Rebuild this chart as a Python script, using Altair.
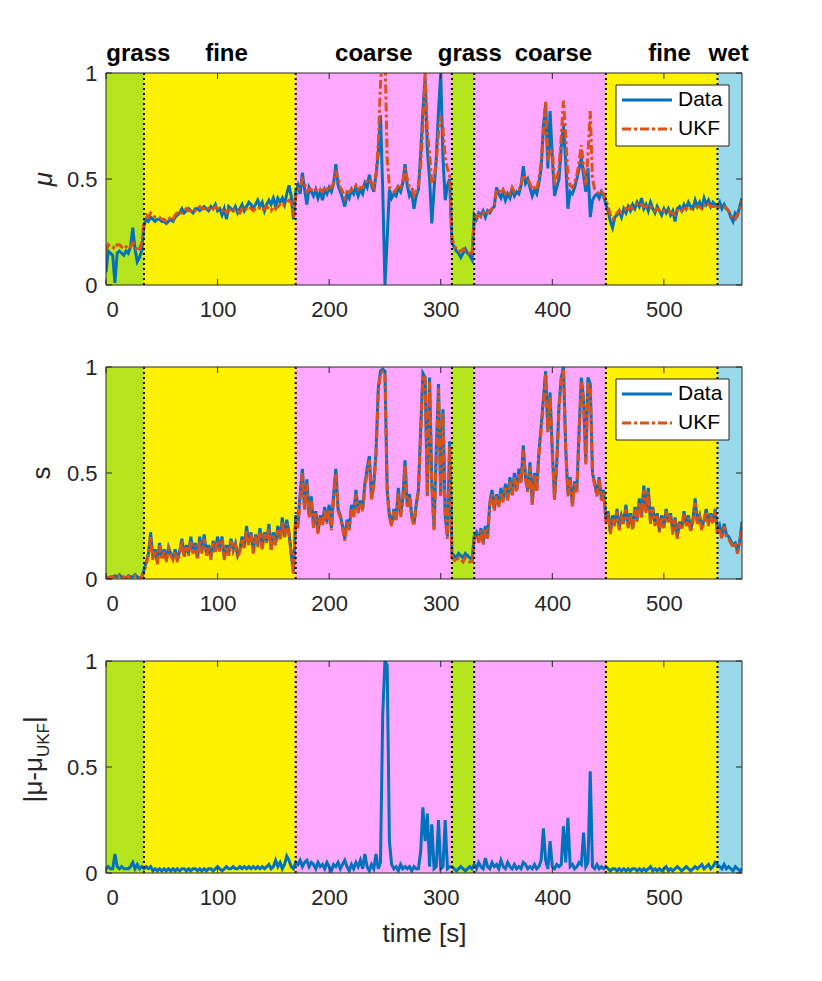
import altair as alt
import pandas as pd

# ---------------- data ----------------
time = list(range(0, 571, 2))

mu_data = [
    # grass 0-34
    0.06, 0.16, 0.15, 0.14, 0.01, 0.15, 0.16, 0.15, 0.14, 0.16, 0.15, 0.18, 0.27, 0.17, 0.11, 0.13, 0.16, 0.28,
    # fine 36-168
    0.31, 0.30, 0.32, 0.31, 0.30, 0.31, 0.31, 0.30, 0.30, 0.29, 0.30, 0.31, 0.30, 0.32, 0.33, 0.34, 0.36, 0.34,
    0.35, 0.36, 0.35, 0.34, 0.36, 0.36, 0.35, 0.36, 0.37, 0.36, 0.35, 0.37, 0.36, 0.38, 0.35, 0.36, 0.33, 0.36,
    0.31, 0.37, 0.36, 0.35, 0.37, 0.34, 0.36, 0.38, 0.35, 0.37, 0.39, 0.38, 0.36, 0.38, 0.40, 0.37, 0.39, 0.35,
    0.38, 0.40, 0.38, 0.41, 0.37, 0.41, 0.39, 0.41, 0.38, 0.43, 0.47, 0.42, 0.31,
    # coarse 170-308
    0.44, 0.47, 0.43, 0.53, 0.45, 0.38, 0.46, 0.44, 0.42, 0.45, 0.41, 0.44, 0.40, 0.45, 0.43, 0.46, 0.44, 0.48,
    0.57, 0.47, 0.44, 0.41, 0.37, 0.43, 0.41, 0.45, 0.43, 0.46, 0.42, 0.45, 0.43, 0.48, 0.46, 0.52, 0.47, 0.44,
    0.52, 0.62, 0.80, 0.45, 0.00, 0.22, 0.45, 0.41, 0.43, 0.42, 0.46, 0.44, 0.48, 0.57, 0.47, 0.42, 0.44, 0.36,
    0.42, 0.45, 0.62, 0.82, 0.98, 0.64, 0.50, 0.29, 0.45, 0.60, 0.82, 1.00, 0.60, 0.40, 0.47, 0.50,
    # grass 310-328
    0.20, 0.18, 0.16, 0.15, 0.13, 0.15, 0.17, 0.15, 0.14, 0.12,
    # coarse 330-446
    0.33, 0.31, 0.34, 0.33, 0.35, 0.32, 0.35, 0.34, 0.36, 0.37, 0.46, 0.43, 0.41, 0.44, 0.40, 0.43, 0.41, 0.45,
    0.42, 0.44, 0.43, 0.47, 0.56, 0.48, 0.50, 0.46, 0.42, 0.45, 0.43, 0.48, 0.55, 0.75, 0.85, 0.55, 0.82, 0.60,
    0.42, 0.46, 0.50, 0.65, 0.75, 0.58, 0.36, 0.44, 0.43, 0.46, 0.50, 0.55, 0.60, 0.52, 0.44, 0.55, 0.32, 0.40,
    0.42, 0.43, 0.41, 0.44, 0.42,
    # fine 448-546
    0.38, 0.35, 0.30, 0.27, 0.32, 0.33, 0.35, 0.32, 0.36, 0.34, 0.37, 0.35, 0.38, 0.36, 0.39, 0.37, 0.41, 0.36,
    0.38, 0.35, 0.39, 0.36, 0.34, 0.37, 0.35, 0.33, 0.36, 0.34, 0.36, 0.33, 0.35, 0.30, 0.36, 0.37, 0.35, 0.38,
    0.36, 0.39, 0.37, 0.36, 0.40, 0.37, 0.39, 0.36, 0.41, 0.38, 0.40, 0.37, 0.39, 0.38,
    # wet 548-570
    0.37, 0.39, 0.36, 0.38, 0.36, 0.35, 0.32, 0.30, 0.34, 0.33, 0.37, 0.41,
]

mu_ukf = [
    0.16, 0.19, 0.18, 0.18, 0.17, 0.19, 0.19, 0.18, 0.17, 0.18, 0.17, 0.18, 0.20, 0.19, 0.16, 0.17, 0.20, 0.30,
    0.33, 0.32, 0.34, 0.33, 0.32, 0.32, 0.32, 0.31, 0.31, 0.30, 0.31, 0.32, 0.31, 0.33, 0.34, 0.35, 0.34, 0.35,
    0.36, 0.35, 0.35, 0.36, 0.35, 0.36, 0.37, 0.36, 0.36, 0.37, 0.36, 0.35, 0.36, 0.37, 0.36, 0.35, 0.35, 0.36,
    0.34, 0.35, 0.36, 0.35, 0.36, 0.35, 0.34, 0.36, 0.35, 0.36, 0.37, 0.36, 0.35, 0.36, 0.37, 0.36, 0.35, 0.36,
    0.37, 0.36, 0.35, 0.37, 0.36, 0.37, 0.38, 0.37, 0.38, 0.39, 0.40, 0.39, 0.32,
    0.42, 0.45, 0.46, 0.50, 0.48, 0.44, 0.45, 0.45, 0.44, 0.45, 0.44, 0.45, 0.44, 0.46, 0.45, 0.47, 0.46, 0.48,
    0.54, 0.50, 0.46, 0.44, 0.41, 0.44, 0.44, 0.45, 0.45, 0.47, 0.45, 0.46, 0.46, 0.48, 0.49, 0.50, 0.48, 0.46,
    0.52, 0.66, 0.95, 1.10, 1.10, 0.60, 0.46, 0.45, 0.44, 0.45, 0.47, 0.46, 0.49, 0.55, 0.50, 0.46, 0.46, 0.42,
    0.44, 0.47, 0.56, 0.75, 1.00, 0.72, 0.62, 0.48, 0.50, 0.58, 0.72, 0.80, 0.74, 0.60, 0.55, 0.52,
    0.22, 0.19, 0.17, 0.16, 0.16, 0.17, 0.16, 0.15, 0.15, 0.14,
    0.31, 0.32, 0.33, 0.32, 0.34, 0.33, 0.34, 0.35, 0.36, 0.38, 0.45, 0.45, 0.43, 0.45, 0.43, 0.44, 0.43, 0.46,
    0.44, 0.45, 0.45, 0.47, 0.52, 0.50, 0.50, 0.48, 0.45, 0.46, 0.45, 0.50, 0.58, 0.72, 0.87, 0.60, 0.62, 0.64,
    0.47, 0.50, 0.55, 0.70, 0.87, 0.70, 0.50, 0.47, 0.46, 0.48, 0.52, 0.58, 0.66, 0.56, 0.47, 0.62, 0.82, 0.50,
    0.45, 0.44, 0.43, 0.44, 0.43,
    0.40, 0.37, 0.33, 0.31, 0.32, 0.34, 0.35, 0.34, 0.35, 0.36, 0.35, 0.37, 0.36, 0.37, 0.38, 0.37, 0.38, 0.37,
    0.37, 0.36, 0.37, 0.36, 0.35, 0.36, 0.35, 0.34, 0.35, 0.35, 0.35, 0.34, 0.34, 0.33, 0.35, 0.36, 0.35, 0.36,
    0.36, 0.37, 0.36, 0.36, 0.37, 0.37, 0.37, 0.36, 0.38, 0.37, 0.38, 0.37, 0.37, 0.37,
    0.36, 0.37, 0.37, 0.37, 0.36, 0.35, 0.33, 0.31, 0.31, 0.33, 0.36, 0.40,
]

s_data = [
    0.010, 0.005, 0.010, 0.010, 0.015, 0.010, 0.020, 0.010, 0.010, 0.005, 0.015, 0.010, 0.010, 0.020, 0.010, 0.005, 0.010, 0.040,
    0.08, 0.12, 0.22, 0.10, 0.14, 0.08, 0.17, 0.10, 0.14, 0.09, 0.15, 0.12, 0.10, 0.14, 0.09, 0.13, 0.19, 0.11,
    0.16, 0.12, 0.20, 0.13, 0.17, 0.10, 0.20, 0.13, 0.21, 0.12, 0.16, 0.10, 0.18, 0.13, 0.20, 0.14, 0.20, 0.10,
    0.16, 0.12, 0.19, 0.14, 0.17, 0.11, 0.14, 0.20, 0.15, 0.25, 0.17, 0.22, 0.13, 0.21, 0.16, 0.24, 0.15, 0.22,
    0.18, 0.26, 0.14, 0.22, 0.17, 0.25, 0.19, 0.29, 0.20, 0.28, 0.22, 0.12, 0.03,
    0.30, 0.25, 0.40, 0.52, 0.33, 0.47, 0.30, 0.39, 0.25, 0.32, 0.22, 0.30, 0.26, 0.34, 0.27, 0.35, 0.24, 0.40,
    0.52, 0.33, 0.30, 0.25, 0.19, 0.28, 0.24, 0.35, 0.30, 0.42, 0.32, 0.37, 0.33, 0.45, 0.52, 0.58, 0.38, 0.45,
    0.60, 0.90, 0.98, 0.99, 0.98, 0.42, 0.30, 0.26, 0.33, 0.28, 0.43, 0.30, 0.38, 0.56, 0.35, 0.40, 0.30, 0.26,
    0.35, 0.42, 0.70, 0.97, 0.95, 0.40, 0.95, 0.45, 0.24, 0.60, 0.92, 0.40, 0.80, 0.30, 0.20, 0.65,
    0.12, 0.11, 0.10, 0.12, 0.11, 0.10, 0.12, 0.11, 0.10, 0.09,
    0.20, 0.22, 0.18, 0.24, 0.17, 0.25, 0.20, 0.36, 0.42, 0.33, 0.40, 0.35, 0.43, 0.37, 0.45, 0.38, 0.48, 0.40,
    0.50, 0.42, 0.52, 0.46, 0.63, 0.48, 0.42, 0.55, 0.36, 0.50, 0.42, 0.60, 0.72, 0.85, 0.98, 0.70, 0.88, 0.60,
    0.38, 0.55, 0.82, 0.95, 1.00, 0.62, 0.40, 0.48, 0.35, 0.46, 0.42, 0.70, 0.95, 0.85, 0.55, 0.95, 0.92, 0.50,
    0.45, 0.40, 0.48, 0.38, 0.42,
    0.28, 0.32, 0.22, 0.30, 0.26, 0.33, 0.24, 0.30, 0.27, 0.35, 0.25, 0.31, 0.24, 0.34, 0.28, 0.38, 0.30, 0.44,
    0.32, 0.43, 0.27, 0.34, 0.26, 0.31, 0.23, 0.30, 0.25, 0.33, 0.27, 0.31, 0.22, 0.29, 0.20, 0.27, 0.24, 0.32,
    0.26, 0.30, 0.23, 0.28, 0.38, 0.27, 0.30, 0.24, 0.28, 0.33, 0.26, 0.31, 0.27, 0.33,
    0.22, 0.25, 0.20, 0.26, 0.21, 0.20, 0.18, 0.16, 0.17, 0.13, 0.18, 0.27,
]

s_ukf = [
    0.008, 0.004, 0.008, 0.009, 0.012, 0.008, 0.016, 0.009, 0.008, 0.004, 0.012, 0.008, 0.009, 0.016, 0.008, 0.004, 0.008, 0.030,
    0.07, 0.11, 0.20, 0.09, 0.13, 0.07, 0.16, 0.09, 0.13, 0.08, 0.14, 0.11, 0.09, 0.13, 0.08, 0.12, 0.18, 0.10,
    0.15, 0.11, 0.18, 0.12, 0.16, 0.09, 0.18, 0.12, 0.19, 0.11, 0.15, 0.09, 0.17, 0.12, 0.18, 0.13, 0.19, 0.09,
    0.15, 0.11, 0.18, 0.13, 0.16, 0.10, 0.13, 0.19, 0.14, 0.23, 0.16, 0.21, 0.12, 0.20, 0.15, 0.22, 0.14, 0.21,
    0.17, 0.24, 0.13, 0.21, 0.16, 0.23, 0.18, 0.27, 0.19, 0.26, 0.21, 0.11, 0.02,
    0.29, 0.24, 0.38, 0.50, 0.32, 0.45, 0.29, 0.37, 0.24, 0.31, 0.21, 0.29, 0.25, 0.33, 0.26, 0.33, 0.23, 0.38,
    0.50, 0.32, 0.29, 0.24, 0.18, 0.27, 0.23, 0.33, 0.29, 0.40, 0.31, 0.36, 0.32, 0.43, 0.50, 0.56, 0.37, 0.44,
    0.58, 0.88, 0.97, 0.98, 0.97, 0.41, 0.29, 0.25, 0.32, 0.27, 0.41, 0.29, 0.37, 0.54, 0.34, 0.39, 0.29, 0.25,
    0.34, 0.41, 0.68, 0.96, 0.94, 0.39, 0.93, 0.44, 0.23, 0.58, 0.90, 0.39, 0.78, 0.29, 0.19, 0.63,
    0.10, 0.09, 0.08, 0.10, 0.09, 0.08, 0.10, 0.09, 0.08, 0.07,
    0.19, 0.21, 0.17, 0.23, 0.16, 0.24, 0.19, 0.35, 0.40, 0.32, 0.39, 0.34, 0.41, 0.36, 0.43, 0.37, 0.46, 0.39,
    0.48, 0.41, 0.50, 0.45, 0.61, 0.47, 0.41, 0.53, 0.35, 0.49, 0.41, 0.58, 0.70, 0.83, 0.97, 0.69, 0.86, 0.59,
    0.37, 0.54, 0.80, 0.94, 0.99, 0.61, 0.39, 0.47, 0.34, 0.45, 0.41, 0.68, 0.93, 0.83, 0.54, 0.93, 0.90, 0.49,
    0.44, 0.39, 0.47, 0.37, 0.41,
    0.27, 0.31, 0.21, 0.29, 0.25, 0.32, 0.23, 0.29, 0.26, 0.33, 0.24, 0.30, 0.23, 0.33, 0.27, 0.36, 0.29, 0.42,
    0.31, 0.41, 0.26, 0.33, 0.25, 0.30, 0.22, 0.29, 0.24, 0.32, 0.26, 0.30, 0.21, 0.28, 0.19, 0.26, 0.23, 0.31,
    0.25, 0.29, 0.22, 0.27, 0.36, 0.26, 0.29, 0.23, 0.27, 0.32, 0.25, 0.30, 0.26, 0.32,
    0.21, 0.24, 0.19, 0.25, 0.20, 0.19, 0.17, 0.15, 0.16, 0.12, 0.17, 0.26,
]

abs_diff = [
    0.02, 0.03, 0.02, 0.02, 0.09, 0.03, 0.02, 0.03, 0.02, 0.02, 0.02, 0.03, 0.05, 0.02, 0.04, 0.02, 0.03, 0.02,
    0.03, 0.02, 0.03, 0.01, 0.02, 0.01, 0.02, 0.01, 0.02, 0.01, 0.02, 0.01, 0.02, 0.01, 0.02, 0.01, 0.02, 0.02,
    0.01, 0.02, 0.01, 0.02, 0.02, 0.01, 0.02, 0.01, 0.02, 0.01, 0.02, 0.02, 0.01, 0.02, 0.03, 0.02, 0.01, 0.02,
    0.03, 0.02, 0.02, 0.03, 0.02, 0.02, 0.03, 0.02, 0.03, 0.02, 0.03, 0.02, 0.03, 0.02, 0.03, 0.02, 0.03, 0.02,
    0.03, 0.04, 0.02, 0.03, 0.06, 0.03, 0.05, 0.02, 0.04, 0.08, 0.06, 0.03, 0.02,
    0.05, 0.04, 0.06, 0.03, 0.05, 0.06, 0.03, 0.05, 0.04, 0.02, 0.05, 0.03, 0.04, 0.02, 0.05, 0.03, 0.01, 0.04,
    0.03, 0.05, 0.02, 0.04, 0.06, 0.03, 0.01, 0.04, 0.02, 0.05, 0.03, 0.06, 0.02, 0.09, 0.03, 0.01, 0.04, 0.02,
    0.09, 0.02, 0.05, 0.75, 1.00, 0.98, 0.15, 0.04, 0.02, 0.03, 0.01, 0.04, 0.02, 0.03, 0.02, 0.03, 0.01, 0.03,
    0.02, 0.02, 0.10, 0.31, 0.15, 0.28, 0.03, 0.23, 0.02, 0.03, 0.25, 0.02, 0.03, 0.25, 0.02, 0.03,
    0.03, 0.02, 0.01, 0.02, 0.03, 0.02, 0.01, 0.02, 0.03, 0.02,
    0.04, 0.02, 0.05, 0.03, 0.02, 0.07, 0.03, 0.02, 0.05, 0.03, 0.04, 0.02, 0.06, 0.03, 0.02, 0.05, 0.03, 0.02,
    0.04, 0.02, 0.03, 0.02, 0.05, 0.04, 0.02, 0.03, 0.02, 0.04, 0.02, 0.03, 0.06, 0.21, 0.06, 0.02, 0.15, 0.03,
    0.02, 0.04, 0.03, 0.04, 0.22, 0.05, 0.26, 0.03, 0.04, 0.02, 0.03, 0.05, 0.04, 0.19, 0.03, 0.05, 0.48, 0.03,
    0.02, 0.04, 0.02, 0.03, 0.02,
    0.03, 0.02, 0.01, 0.02, 0.02, 0.01, 0.02, 0.01, 0.02, 0.01, 0.02, 0.01, 0.02, 0.02, 0.01, 0.02, 0.01, 0.02,
    0.01, 0.02, 0.03, 0.01, 0.02, 0.01, 0.02, 0.01, 0.02, 0.03, 0.01, 0.02, 0.01, 0.02, 0.03, 0.02, 0.01, 0.02,
    0.03, 0.02, 0.01, 0.02, 0.03, 0.02, 0.03, 0.04, 0.02, 0.03, 0.04, 0.02, 0.03, 0.05,
    0.04, 0.03, 0.02, 0.04, 0.02, 0.03, 0.02, 0.01, 0.03, 0.02, 0.01, 0.02,
]

band_start = [0, 34, 170, 310, 330, 448, 548]
band_end = [34, 170, 310, 330, 448, 548, 570]
band_name = ["grass", "fine", "coarse", "grass", "coarse", "fine", "wet"]
label_x = [29, 108, 240, 326, 401, 505, 558]
surface_color = {"grass": "#b5e61d", "fine": "#fff200", "coarse": "#ffa8ff", "wet": "#99d9ea"}
boundaries = [34, 170, 310, 330, 448, 548]
x_ticks = [0, 100, 200, 300, 400, 500]
y_ticks = [0, 0.5, 1]
legend_names = ["Data", "UKF"]

# ---------------- tables ----------------
df = pd.DataFrame({"t": time, "mu": mu_data, "mu_ukf": mu_ukf,
                   "s": s_data, "s_ukf": s_ukf, "d": abs_diff})
bands_df = pd.DataFrame({"start": band_start, "end": band_end, "name": band_name,
                         "color": [surface_color[n] for n in band_name], "lx": label_x})
bnd_df = pd.DataFrame({"b": boundaries})
xt_df = pd.DataFrame({"v": x_ticks})
yt_df = pd.DataFrame({"v": y_ticks})
one = pd.DataFrame({"k": [0]})

W, H = 636, 212
BLUE, ORANGE, AX = "#0072BD", "#D95319", "#262626"
FONT = "Liberation Sans"
LW = 3

xs = alt.Scale(domain=[0, 570], nice=False, zero=False)
ys = alt.Scale(domain=[0, 1], nice=False)


def xaxis(title=None):
    kw = dict(values=x_ticks, format="d", grid=False, domain=False, ticks=False, tickSize=0,
              labelPadding=14, labelFontSize=22, labelColor=AX, labelFont=FONT)
    if title:
        kw.update(title=title, titleFontSize=26, titleFont=FONT, titleColor=AX,
                  titleFontWeight="normal", titlePadding=12)
    else:
        kw.update(title=None)
    return alt.Axis(**kw)


yaxis = alt.Axis(values=y_ticks, format="~g", grid=False, domain=False, ticks=False, tickSize=0,
                 labelPadding=9, labelFontSize=22, labelColor=AX, labelFont=FONT, title=None)


def panel(lines, ylab_layers, xtitle=None, legend=False, top_labels=False):
    xa = xaxis(xtitle)
    X = lambda f: alt.X(f, scale=xs, axis=xa)
    Y = lambda f: alt.Y(f, scale=ys, axis=yaxis)
    layers = []
    layers.append(alt.Chart(bands_df).mark_rect().encode(
        x=X("start:Q"), x2="end:Q", y=alt.value(0), y2=alt.value(H),
        color=alt.Color("color:N", scale=None)))
    for field, col, dash in lines:
        layers.append(alt.Chart(df).mark_line(color=col, strokeWidth=LW, strokeDash=dash, clip=True)
                      .encode(x=X("t:Q"), y=Y(field + ":Q")))
    layers.append(alt.Chart(bnd_df).mark_rule(color="black", strokeWidth=2, strokeDash=[2, 3])
                  .encode(x=X("b:Q")))
    # inward ticks
    layers.append(alt.Chart(xt_df).mark_rule(color=AX, strokeWidth=1)
                  .encode(x=X("v:Q"), y=alt.value(H), y2=alt.value(H - 6)))
    layers.append(alt.Chart(xt_df).mark_rule(color=AX, strokeWidth=1)
                  .encode(x=X("v:Q"), y=alt.value(0), y2=alt.value(6)))
    layers.append(alt.Chart(yt_df).mark_rule(color=AX, strokeWidth=1)
                  .encode(y=Y("v:Q"), x=alt.value(0), x2=alt.value(6)))
    layers.append(alt.Chart(yt_df).mark_rule(color=AX, strokeWidth=1)
                  .encode(y=Y("v:Q"), x=alt.value(W), x2=alt.value(W - 6)))
    # box
    layers.append(alt.Chart(one).mark_rect(fillOpacity=0, stroke=AX, strokeWidth=1)
                  .encode(x=alt.value(0), x2=alt.value(W), y=alt.value(0), y2=alt.value(H)))
    if legend:
        layers.append(alt.Chart(one).mark_rect(fill="white", stroke=AX, strokeWidth=1)
                      .encode(x=alt.value(510), x2=alt.value(623), y=alt.value(12), y2=alt.value(73)))
        layers.append(alt.Chart(one).mark_rule(color=BLUE, strokeWidth=LW)
                      .encode(x=alt.value(516), x2=alt.value(566), y=alt.value(27)))
        layers.append(alt.Chart(one).mark_rule(color=ORANGE, strokeWidth=LW, strokeDash=[9, 3, 3, 3])
                      .encode(x=alt.value(516), x2=alt.value(566), y=alt.value(56)))
        for i, nm in enumerate(legend_names):
            layers.append(alt.Chart(one).mark_text(text=nm, align="left", baseline="middle",
                                                   fontSize=21, font=FONT, color="black")
                          .encode(x=alt.value(572), y=alt.value(27 + 29 * i)))
    if top_labels:
        layers.append(alt.Chart(bands_df).mark_text(fontSize=24, fontWeight="bold", font=FONT,
                                                     baseline="middle", color="black")
                      .encode(x=X("lx:Q"), y=alt.value(-19), text="name:N"))
    layers.extend(ylab_layers)
    return alt.layer(*layers).properties(width=W, height=H)


def ytext(txt, x, y, size=26, align="center", italic=False):
    kw = dict(text=txt, angle=270, align=align, baseline="middle", fontSize=size,
              font=FONT, color=AX)
    if italic:
        kw["fontStyle"] = "italic"
    return alt.Chart(one).mark_text(**kw).encode(x=alt.value(x), y=alt.value(y))


p1 = panel([("mu", BLUE, [1, 0]), ("mu_ukf", ORANGE, [9, 3, 3, 3])],
           [ytext("μ", -62, H / 2, italic=True)], legend=True, top_labels=True)
p2 = panel([("s", BLUE, [1, 0]), ("s_ukf", ORANGE, [9, 3, 3, 3])],
           [ytext("s", -64, H / 2)], legend=True)
p3 = panel([("d", BLUE, [1, 0])],
           [ytext("|μ-μ", -72, 96, align="right"),
            ytext("UKF", -62, 96, size=17, align="left"),
            ytext("|", -72, 62, align="left")],
           xtitle="time [s]")

chart = alt.vconcat(p1, p2, p3, spacing=36).properties(
    padding={"left": 13, "top": 34, "right": 10, "bottom": 10}
).configure_view(stroke=None)

chart.save("out.html", embed_options={"renderer": "svg", "actions": False})
